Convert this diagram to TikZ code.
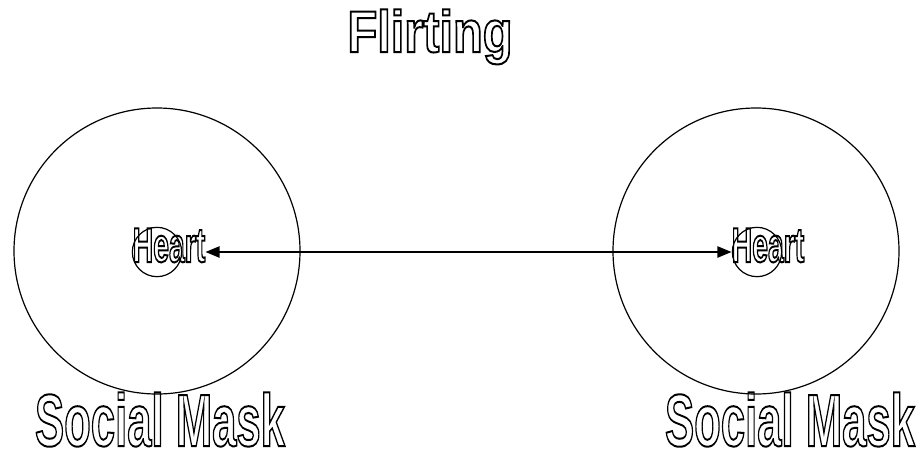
\documentclass[tikz,border=0pt]{standalone}
\usepackage{fontspec}
\setmainfont{Liberation Sans}
\usepackage{graphicx}
\usetikzlibrary{arrows.meta,positioning}
\newcommand{\hollow}[2]{\scalebox{#1}[1]{\special{pdf:literal direct 1 Tr 1.5 w}#2\special{pdf:literal direct 0 Tr}}}

\begin{document}
\begin{tikzpicture}[x=0.75pt, y=-0.75pt, every node/.style={font=\bfseries}]
\tikzset{mask/.style={draw, circle, line width=0.9pt, minimum size=214.5pt, inner sep=0pt}}
\tikzset{core/.style={draw, circle, line width=0.9pt, minimum size=37pt, inner sep=0pt}}
\tikzset{lbl/.style={inner sep=0pt, anchor=base}}
\tikzset{arrow/.style={{Triangle[length=10.5pt, width=8.5pt]}-{Triangle[length=10.5pt, width=8.5pt]}, line width=0.9pt}}
\fill[white] (0,0) rectangle (920,454);
\useasboundingbox (0,0) rectangle (920,454);
% masks and hearts
\node[mask] (maskL) at (157,251) {};
\node[mask] (maskR) at (756,251) {};
\node[core] (coreL) at (157,252) {};
\node[core] (coreR) at (757,252) {};
% labels
\node[lbl] (title) at (430,52) {\fontsize{44}{48}\selectfont\hollow{0.83}{Flirting}};
\node[lbl] (heartL) at (169,262) {\fontsize{36.7}{40}\selectfont\hollow{0.58}{Heart}};
\node[lbl] (heartR) at (768,262) {\fontsize{36.7}{40}\selectfont\hollow{0.58}{Heart}};
\node[lbl] (socialL) at (160,446) {\fontsize{55.5}{60}\selectfont\hollow{0.59}{Social Mask}};
\node[lbl] (socialR) at (790,446) {\fontsize{55.5}{60}\selectfont\hollow{0.59}{Social Mask}};
\draw[arrow] (coreL -| heartL.east) -- (coreR -| heartR.west);
\end{tikzpicture}
\end{document}
